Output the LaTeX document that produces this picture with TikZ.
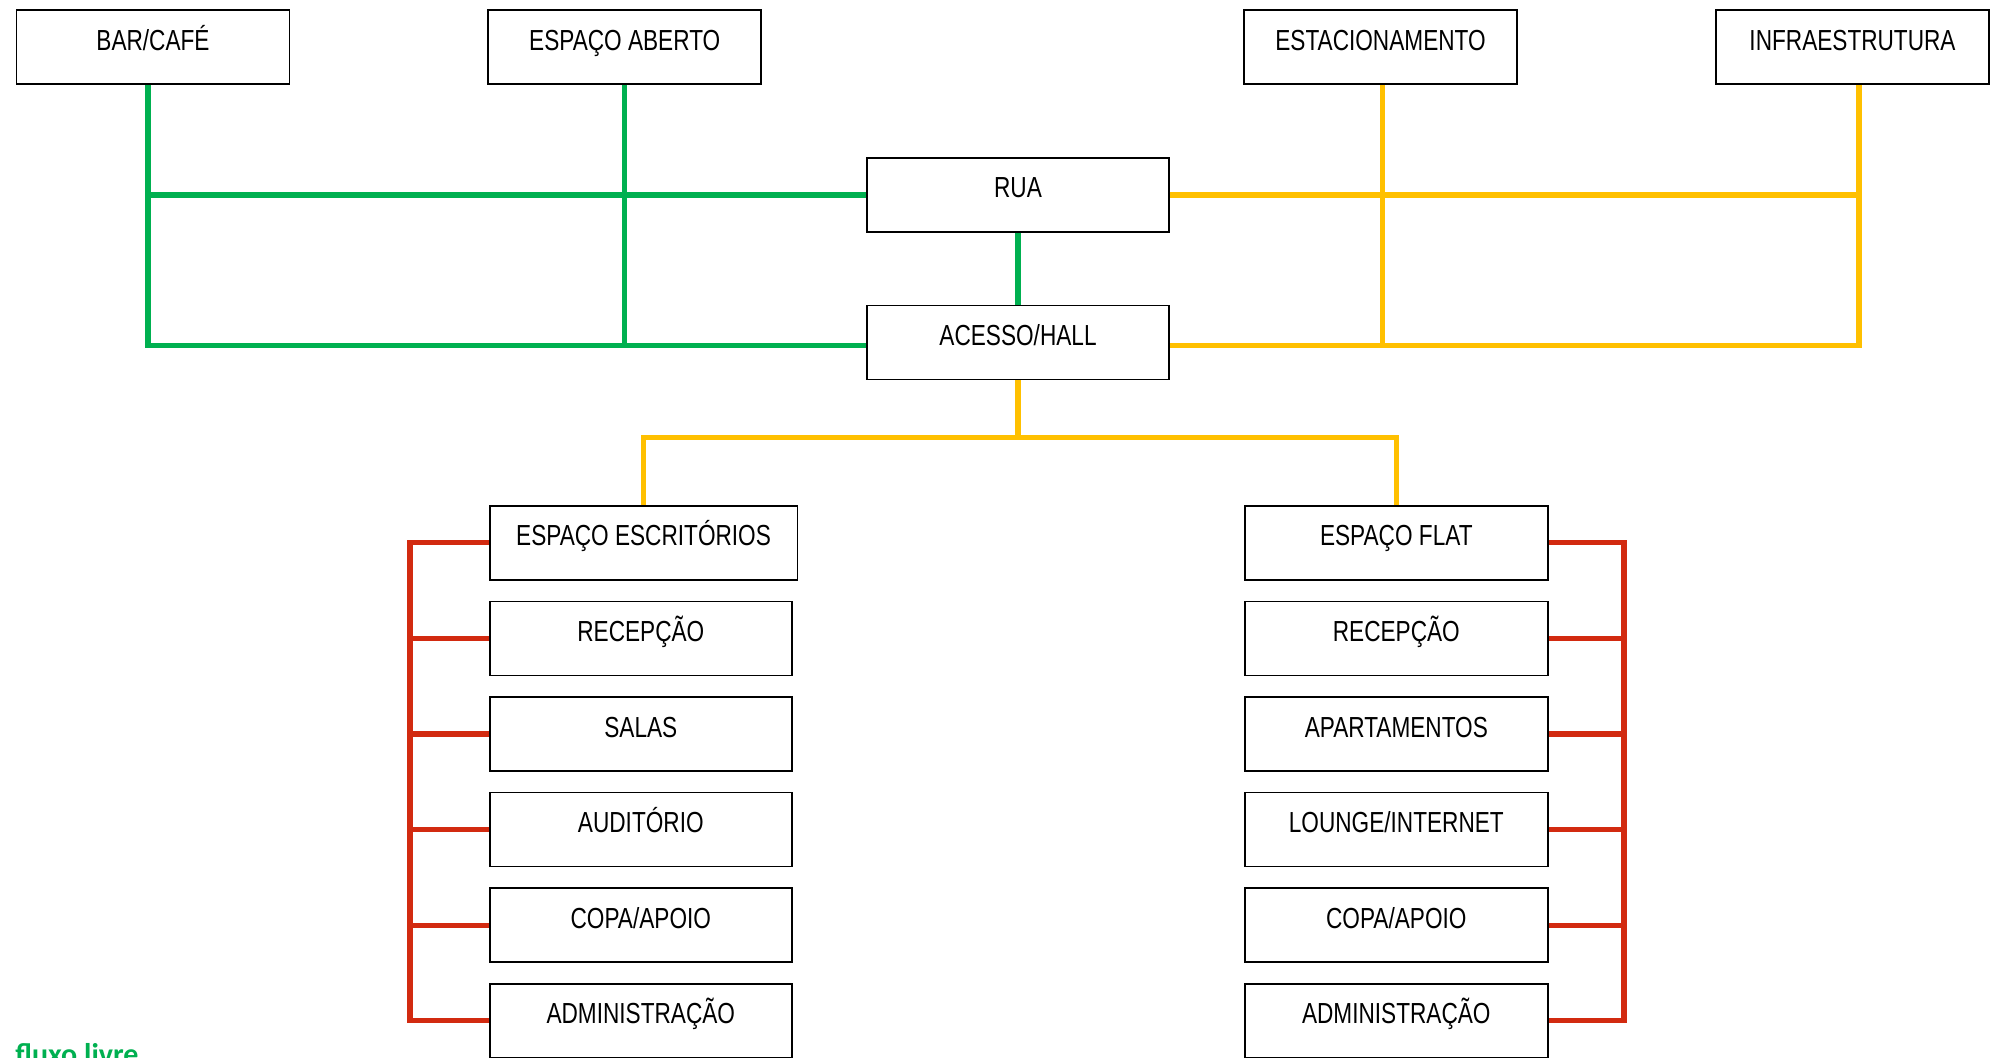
\documentclass[tikz,border=0pt]{standalone}
\usepackage{fontspec}
\setmainfont{Liberation Sans}[FakeStretch=0.78]
\newfontfamily\legfont{Carlito}
\usepackage{xcolor}
\usetikzlibrary{positioning}
\definecolor{verde}{RGB}{0,176,80}
\definecolor{amarelo}{RGB}{255,192,0}
\definecolor{vermelho}{RGB}{210,42,16}

\begin{document}
\begin{tikzpicture}[x=0.5pt,y=-0.5pt]
        \tikzset{block/.style={draw, rectangle, line width=0.8pt, inner xsep=2pt, inner ysep=0pt,
                text height=20pt, text depth=17pt, font=\fontsize{14.5}{17}\selectfont},
        topblock/.style={block, minimum width=136.5pt},
        midblock/.style={block, minimum width=151pt},
        colblock/.style={block, minimum width=151.5pt},
        fluxoverde/.style={draw=verde, line width=2.6pt},
        fluxoamarelo/.style={draw=amarelo, line width=2.6pt},
        fluxovermelho/.style={draw=vermelho, line width=2.6pt, line join=miter},
        }
        \clip (0,0) rectangle (1995,1058);
        %% top row
        \node [topblock] (bar) at (153,47.3) {BAR/CAFÉ};
        \node [topblock] (aberto) at (624.7,47.3) {ESPAÇO ABERTO};
        \node [topblock] (estac) at (1380.5,47.3) {ESTACIONAMENTO};
        \node [topblock] (infra) at (1852.5,47.3) {INFRAESTRUTURA};
        %% centre
        \node [midblock] (rua) at (1018,195) {RUA};
        \node [midblock, below=36pt of rua] (acesso) {ACESSO/HALL};
        %% left column
        \node [block, minimum width=153.75pt, anchor=north west] (esc) at (489,505) {ESPAÇO ESCRITÓRIOS};
        \node [midblock, below right=10pt and 0pt of esc.south west] (rec1) {RECEPÇÃO};
        \node [midblock, below=10pt of rec1] (sal) {SALAS};
        \node [midblock, below=10pt of sal] (aud) {AUDITÓRIO};
        \node [midblock, below=10pt of aud] (copa1) {COPA/APOIO};
        \node [midblock, below=10pt of copa1] (adm1) {ADMINISTRAÇÃO};
        %% right column
        \node [colblock, anchor=north west] (flat) at (1244,505) {ESPAÇO FLAT};
        \node [colblock, below=10pt of flat] (rec2) {RECEPÇÃO};
        \node [colblock, below=10pt of rec2] (apto) {APARTAMENTOS};
        \node [colblock, below=10pt of apto] (lounge) {LOUNGE/INTERNET};
        \node [colblock, below=10pt of lounge] (copa2) {COPA/APOIO};
        \node [colblock, below=10pt of copa2] (adm2) {ADMINISTRAÇÃO};
        \node [anchor=base west, inner sep=0pt, text=verde, font=\legfont\bfseries\fontsize{15}{18}\selectfont] (legenda) at (15,1064) {fluxo livre};
        \coordinate (vbar) at ([xshift=-2.5pt]bar.south);
        \coordinate (vinfra) at ([xshift=3.2pt]infra.south);
        \coordinate (ramo) at ([yshift=-28.5pt]acesso.south);
        \coordinate (lbar) at (410,0);
        \coordinate (rbar) at (1624,0);

%% paths
        \path[fluxoverde] (vbar) |- ([yshift=-1.5pt]acesso.west)
                    (rua) -- (rua -| vbar)
                    (aberto) -- (aberto |- acesso)
                    (rua) -- (acesso);
        \path[fluxoamarelo] (vinfra) |- ([yshift=-1.5pt]acesso.east)
                    (rua) -- (rua -| vinfra)
                    ([xshift=1pt]estac.south) -- ([xshift=1pt]estac |- acesso)
                    (acesso) -- (ramo)
                    (esc) |- (ramo) -| (flat);
        \path[fluxovermelho] (esc) -| (lbar |- adm1) -- (adm1)
                    (flat) -| (rbar |- adm2) -- (adm2);
        \foreach \n in {rec1,sal,aud,copa1}
            \draw[fluxovermelho] (\n) -- (\n -| lbar);
        \foreach \n in {rec2,apto,lounge,copa2}
            \draw[fluxovermelho] (\n) -- (\n -| rbar);
\end{tikzpicture}
\end{document}
